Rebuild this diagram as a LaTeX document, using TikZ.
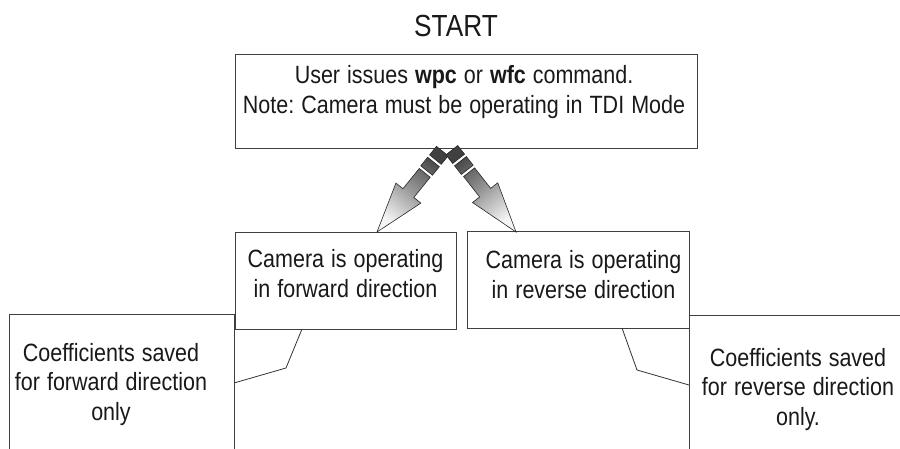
\documentclass[tikz,border=0pt]{standalone}
\usepackage{fontspec}
\setmainfont{Liberation Sans}[FakeStretch=0.86]
\usetikzlibrary{calc}
\newcommand\mytxtfont{\fontsize{25}{29.5}\selectfont\spaceskip=7pt plus 1pt minus 1pt\relax}
\newcommand\mylines[1]{{\mytxtfont\begin{tabular}[t]{@{}c@{}}#1\end{tabular}}}
\begin{document}
\frenchspacing
\begin{tikzpicture}[x=1pt,y=-1pt,
  box/.style={draw=black!75, line width=1pt, inner sep=0pt, outer sep=0pt},
  txt/.style={anchor=base, inner sep=0pt, text=black!90},
  callout/.style={draw=black!80, line width=0.8pt},
  arrowbody/.style={draw=black!85, line width=0.6pt, top color=black!75, bottom color=black!4, middle color=black!42}]
\useasboundingbox (0,0) rectangle (900,449);
\clip (0,0) rectangle (900,449);

% title
\node[txt, font=\fontsize{30.5}{35}\selectfont] (start) at (456,37) {START};

% boxes
\node[box, minimum width=462pt, minimum height=94pt] (top) at (466,102) {};
\node[box, minimum width=221pt, minimum height=96pt] (fwd) at (345.5,281) {};
\node[box, minimum width=222pt, minimum height=96pt] (rev) at (578,280) {};
\node[box, minimum width=225pt, minimum height=166pt] (lcoef) at (121.5,397) {};
\node[box, minimum width=241pt, minimum height=165pt] (rcoef) at (809.5,397.5) {};

% texts
\node[txt] (toptext) at (464,84) {\mylines{User issues \textbf{wpc} or \textbf{wfc} command.\\Note: Camera must be operating in TDI Mode}};
\node[txt] (fwdtext) at (345.5,268) {\mylines{Camera is operating\\in forward direction}};
\node[txt] (revtext) at (583.5,269) {\mylines{Camera is operating\\in reverse direction}};
\node[txt] (lcoeftext) at (111,361) {\mylines{Coefficients saved\\for forward direction\\only}};
\node[txt] (rcoeftext) at (798,366) {\mylines{Coefficients saved\\for reverse direction\\only.}};

% callout lines
\coordinate (fbend) at (286,368);
\coordinate (rbend) at (637,370);
\draw[callout] ($(fwd.south west)+(67,0)$) -- (fbend) -- ($(lcoef.north east)+(0,69)$);
\draw[callout] ($(rev.south west)+(155,0)$) -- (rbend) -- ($(rcoef.north west)+(0,70)$);

% arrows
\coordinate (ltip) at ($(fwd.north west)+(142,-1)$);
\coordinate (rtip) at ($(rev.north west)+(49,0)$);
\begin{scope}[shift={(ltip)}, rotate=51.1]
\path[arrowbody, shading angle=-39]
  (0,0) -- (50,16) -- (50,7) -- (76,7) -- (76,-7) -- (50,-7) -- (50,-16) -- cycle
  (79,-7.5) -- (90,-7.5) -- (90,7.5) -- (79,7.5) -- cycle
  (93,-7.5) -- (104,-7.5) -- (104,7.5) -- (93,7.5) -- cycle;
\end{scope}
\begin{scope}[shift={(rtip)}, rotate=128.1]
\path[arrowbody, shading angle=38]
  (0,0) -- (50,16) -- (50,7) -- (76,7) -- (76,-7) -- (50,-7) -- (50,-16) -- cycle
  (79,-7.5) -- (90,-7.5) -- (90,7.5) -- (79,7.5) -- cycle
  (93,-7.5) -- (104,-7.5) -- (104,7.5) -- (93,7.5) -- cycle;
\end{scope}
\end{tikzpicture}
\end{document}
